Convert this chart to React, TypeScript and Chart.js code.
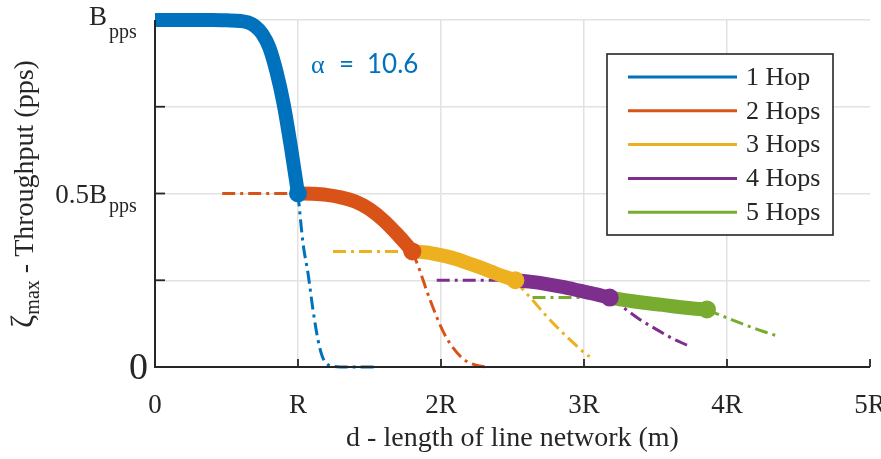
import React, { useEffect, useRef } from "react";
import { Chart, registerables } from "chart.js";

Chart.register(...registerables);

const xTickLabels = ["0", "R", "2R", "3R", "4R", "5R"];
const seriesNames = ["1 Hop", "2 Hops", "3 Hops", "4 Hops", "5 Hops"];
const seriesColors = ["#0072BD", "#D95319", "#EDB120", "#7E2F8E", "#77AC30"];

// 1 Hop
const hop1MainX = [0, 0.2, 0.4, 0.5, 0.6, 0.65, 0.7, 0.75, 0.8, 0.85, 0.9, 0.95, 1.0];
const hop1MainY = [1, 1, 1, 0.999, 0.997, 0.993, 0.982, 0.96, 0.92, 0.85, 0.757, 0.635, 0.5];
const hop1PostX = [1.0, 1.035, 1.07, 1.105, 1.14, 1.17, 1.2, 1.25, 1.35, 1.55];
const hop1PostY = [0.5, 0.357, 0.27, 0.164, 0.078, 0.03, 0.01, 0.002, 0, 0];

// 2 Hops
const hop2PreX = [0.47, 1.0];
const hop2PreY = [0.5, 0.5];
const hop2MainX = [1.0, 1.1, 1.2, 1.3, 1.4, 1.5, 1.6, 1.7, 1.75, 1.8];
const hop2MainY = [0.5, 0.499, 0.496, 0.489, 0.477, 0.455, 0.422, 0.38, 0.357, 0.333];
const hop2PostX = [1.8, 1.85, 1.9, 1.97, 2.03, 2.08, 2.15, 2.2, 2.27, 2.33];
const hop2PostY = [0.333, 0.28, 0.22, 0.144, 0.09, 0.058, 0.025, 0.012, 0.003, 0];

// 3 Hops
const hop3PreX = [1.245, 1.8];
const hop3PreY = [0.333, 0.333];
const hop3MainX = [1.8, 1.9, 1.99, 2.1, 2.2, 2.27, 2.35, 2.41, 2.46, 2.52];
const hop3MainY = [0.333, 0.33, 0.323, 0.312, 0.298, 0.288, 0.275, 0.265, 0.258, 0.25];
const hop3PostX = [2.52, 2.58, 2.64, 2.73, 2.83, 2.93, 3.02, 3.04];
const hop3PostY = [0.25, 0.22, 0.193, 0.15, 0.107, 0.068, 0.035, 0.03];

// 4 Hops
const hop4PreX = [1.97, 2.52];
const hop4PreY = [0.25, 0.25];
const hop4MainX = [2.52, 2.62, 2.74, 2.86, 2.97, 3.08, 3.18];
const hop4MainY = [0.25, 0.246, 0.239, 0.23, 0.22, 0.21, 0.2];
const hop4PostX = [3.18, 3.28, 3.39, 3.5, 3.62, 3.72];
const hop4PostY = [0.2, 0.17, 0.137, 0.11, 0.082, 0.063];

// 5 Hops
const hop5PreX = [2.64, 3.18];
const hop5PreY = [0.2, 0.2];
const hop5MainX = [3.18, 3.3, 3.42, 3.55, 3.68, 3.78, 3.86];
const hop5MainY = [0.2, 0.192, 0.185, 0.179, 0.172, 0.168, 0.166];
const hop5PostX = [3.86, 3.95, 4.04, 4.15, 4.25, 4.35];
const hop5PostY = [0.166, 0.15, 0.135, 0.118, 0.103, 0.09];

const annotationText = ["α", "=", "10.6"];

const pts = (xs: number[], ys: number[]) => xs.map((x, i) => ({ x, y: ys[i] }));

const SERIF = "'Liberation Serif', 'Times New Roman', serif";
const AXIS = "#262626";

function buildDatasets() {
  const groups = [
    { pre: null, main: [hop1MainX, hop1MainY], post: [hop1PostX, hop1PostY] },
    { pre: [hop2PreX, hop2PreY], main: [hop2MainX, hop2MainY], post: [hop2PostX, hop2PostY] },
    { pre: [hop3PreX, hop3PreY], main: [hop3MainX, hop3MainY], post: [hop3PostX, hop3PostY] },
    { pre: [hop4PreX, hop4PreY], main: [hop4MainX, hop4MainY], post: [hop4PostX, hop4PostY] },
    { pre: [hop5PreX, hop5PreY], main: [hop5MainX, hop5MainY], post: [hop5PostX, hop5PostY] },
  ] as any[];
  const ds: any[] = [];
  const thin = (xy: number[][], color: string, order: number) => ({
    type: "line",
    data: pts(xy[0], xy[1]),
    borderColor: color,
    backgroundColor: color,
    borderWidth: 3,
    borderDash: [13, 5, 3, 5],
    pointRadius: 0,
    cubicInterpolationMode: "monotone",
    fill: false,
    clip: false,
    order,
  });
  groups.forEach((g, i) => {
    const c = seriesColors[i];
    if (g.pre) ds.push({ ...thin(g.pre, c, 100 + i), label: seriesNames[i] + " pre" });
    ds.push({ ...thin(g.post, c, 100 + i), label: seriesNames[i] + " post" });
  });
  groups.forEach((g, i) => {
    const c = seriesColors[i];
    const n = g.main[0].length;
    ds.push({
      type: "line",
      label: seriesNames[i],
      data: pts(g.main[0], g.main[1]),
      borderColor: c,
      backgroundColor: c,
      borderWidth: 14,
      borderCapStyle: "butt",
      borderJoinStyle: "round",
      pointRadius: (ctx: any) => (ctx.dataIndex === n - 1 ? 9 : 0),
      pointBorderWidth: 0,
      pointHoverRadius: 0,
      cubicInterpolationMode: "monotone",
      fill: false,
      clip: false,
      order: 40 + i,
    });
  });
  return ds;
}

const decor = {
  id: "decor",
  afterDraw(chart: any) {
    const ctx = chart.ctx as CanvasRenderingContext2D;
    const xs = chart.scales.x;
    const ys = chart.scales.y;
    const { left, right, top, bottom } = chart.chartArea;
    ctx.save();
    // axes
    ctx.strokeStyle = AXIS;
    ctx.lineWidth = 2;
    ctx.beginPath();
    ctx.moveTo(left, top);
    ctx.lineTo(left, bottom);
    ctx.lineTo(right, bottom);
    ctx.stroke();
    // inward ticks
    ctx.lineWidth = 1.8;
    for (let v = 1; v <= 5; v++) {
      const px = xs.getPixelForValue(v);
      ctx.beginPath();
      ctx.moveTo(px, bottom);
      ctx.lineTo(px, bottom - 8);
      ctx.stroke();
    }
    [0.25, 0.5, 0.75].forEach((v) => {
      const py = ys.getPixelForValue(v);
      ctx.beginPath();
      ctx.moveTo(left, py);
      ctx.lineTo(left + 10, py);
      ctx.stroke();
    });
    // x tick labels
    ctx.fillStyle = AXIS;
    ctx.font = `27px ${SERIF}`;
    ctx.textAlign = "center";
    ctx.textBaseline = "alphabetic";
    xTickLabels.forEach((t, i) => {
      ctx.fillText(t, xs.getPixelForValue(i), 413);
    });
    // y tick labels
    const y1 = ys.getPixelForValue(1);
    const y05 = ys.getPixelForValue(0.5);
    const y0 = ys.getPixelForValue(0);
    ctx.textAlign = "right";
    ctx.font = `27px ${SERIF}`;
    ctx.fillText("B", 107, y1 + 5);
    ctx.fillText("0.5B", 107, y05 + 9);
    ctx.font = `38px ${SERIF}`;
    ctx.fillText("0", 148, y0 + 12);
    ctx.textAlign = "left";
    ctx.font = `20px ${SERIF}`;
    ctx.fillText("pps", 109, y1 + 18);
    ctx.fillText("pps", 109, y05 + 18);
    // x title
    ctx.textAlign = "center";
    ctx.font = `28px ${SERIF}`;
    ctx.fillText("d - length of line network (m)", (left + right) / 2, 446);
    // y title (rotated)
    ctx.save();
    ctx.translate(33, 194);
    ctx.rotate(-Math.PI / 2);
    const parts: [string, string, number][] = [
      ["ζ", `32px ${SERIF}`, 0],
      ["max", `20px ${SERIF}`, 6],
      [" - Throughput (pps)", `28px ${SERIF}`, 0],
    ];
    let total = 0;
    parts.forEach((p) => {
      ctx.font = p[1];
      total += ctx.measureText(p[0]).width;
    });
    let cx = -total / 2;
    ctx.textAlign = "left";
    parts.forEach((p) => {
      ctx.font = p[1];
      ctx.fillText(p[0], cx, p[2]);
      cx += ctx.measureText(p[0]).width;
    });
    ctx.restore();
    // annotation
    ctx.fillStyle = seriesColors[0];
    ctx.textAlign = "left";
    ctx.font = `26px ${SERIF}`;
    ctx.fillText(annotationText[0], 311, 73);
    ctx.font = `26px Lato, 'Open Sans', sans-serif`;
    ctx.fillText(annotationText[1], 339, 73);
    ctx.fillText(annotationText[2], 367, 73);
    // legend
    const lx = 607, ly = 54, lw = 226, lh = 181;
    ctx.fillStyle = "#ffffff";
    ctx.fillRect(lx, ly, lw, lh);
    ctx.strokeStyle = AXIS;
    ctx.lineWidth = 1.6;
    ctx.strokeRect(lx, ly, lw, lh);
    ctx.font = `26px ${SERIF}`;
    ctx.textBaseline = "middle";
    seriesNames.forEach((name, i) => {
      const yy = 77 + i * 33.8;
      ctx.strokeStyle = seriesColors[i];
      ctx.lineWidth = 3;
      ctx.beginPath();
      ctx.moveTo(628, yy);
      ctx.lineTo(737, yy);
      ctx.stroke();
      ctx.fillStyle = AXIS;
      ctx.fillText(name, 746, yy + 1);
    });
    ctx.restore();
  },
};

export default function App() {
  const ref = useRef<HTMLCanvasElement>(null);
  useEffect(() => {
    if (!ref.current) return;
    const chart = new Chart(ref.current, {
      type: "line",
      data: { datasets: buildDatasets() },
      options: {
        animation: false,
        responsive: false,
        maintainAspectRatio: false,
        devicePixelRatio: 1,
        layout: { padding: { left: 155, right: 11, top: 20, bottom: 92 } },
        plugins: { legend: { display: false }, tooltip: { enabled: false } },
        events: [],
        scales: {
          x: {
            type: "linear",
            min: 0,
            max: 5,
            ticks: { display: false, stepSize: 1 },
            grid: {
              drawTicks: false,
              lineWidth: 1.5,
              color: (c: any) =>
                c.tick && (c.tick.value === 0 || c.tick.value === 5) ? "rgba(0,0,0,0)" : "#e2e2e2",
            },
            border: { display: false },
            afterFit: (s: any) => {
              s.height = 0;
            },
          },
          y: {
            type: "linear",
            min: 0,
            max: 1,
            ticks: { display: false, stepSize: 0.25 },
            grid: {
              drawTicks: false,
              lineWidth: 1.5,
              color: (c: any) => (c.tick && c.tick.value === 0 ? "rgba(0,0,0,0)" : "#e2e2e2"),
            },
            border: { display: false },
            afterFit: (s: any) => {
              s.width = 0;
            },
          },
        },
      } as any,
      plugins: [decor],
    });
    return () => chart.destroy();
  }, []);
  return (
    <div style={{ position: "fixed", left: 0, top: 0, width: 881, height: 459, background: "#fff" }}>
      <canvas ref={ref} width={881} height={459} style={{ width: 881, height: 459, display: "block" }} />
    </div>
  );
}
